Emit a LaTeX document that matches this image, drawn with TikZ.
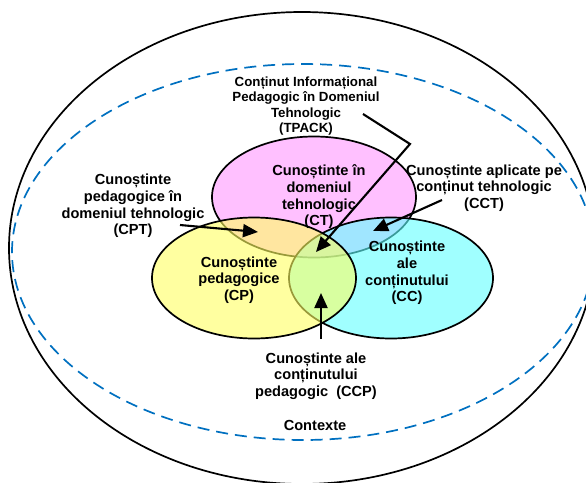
\documentclass[tikz,border=0pt]{standalone}
\usepackage{fontspec}
\setmainfont{Liberation Sans}
\usetikzlibrary{positioning,shapes,arrows.meta}
\definecolor{ctpink}{RGB}{255,150,255}
\definecolor{cpyellow}{RGB}{255,255,97}
\definecolor{cccyan}{RGB}{97,255,255}
\definecolor{ctxblue}{RGB}{0,112,192}

\begin{document}
\begin{tikzpicture}[
  x=1pt,y=-1pt,
  blob/.style={draw,ellipse,line width=1.7pt,fill opacity=0.6,minimum width=204pt,minimum height=121pt,inner sep=0pt},
  txt/.style={align=center,font=\fontsize{14.6}{16.7}\selectfont\bfseries,inner sep=0pt},
  smalltxt/.style={align=center,font=\fontsize{13.3}{15.5}\selectfont\bfseries,inner sep=0pt},
  arr/.style={line width=2.1pt,-{Triangle[length=15pt,width=13pt]}}
]
\useasboundingbox (0,0) rectangle (586,482);
\clip (0,0) rectangle (586,482);
\draw[line width=1.7pt] (302,248) ellipse [x radius=293,y radius=236];
\draw[ctxblue,line width=1.7pt,dash pattern=on 12pt off 7pt] (303,252) ellipse [x radius=291,y radius=188];
\node[blob,fill=ctpink] (CT) at (314,197) {};
\node[blob,fill=cccyan] (CC) at (391,278) {};
\node[blob,fill=cpyellow] (CP) at (254,278) {};
\node[txt] (CTt) at (319,197) {Cunoștinte în\\domeniul\\tehnologic\\(CT)};
\node[txt] (CPt) at (239,280) {Cunoștinte\\pedagogice\\(CP)};
\node[txt] (CCt) at (407,273) {Cunoștinte\\ale\\conținutului\\(CC)};
\node[txt] (CPT) at (133,206) {Cunoștinte\\pedagogice în\\domeniul tehnologic\\(CPT)};
\node[txt] (CCT) at (484,188) {Cunoștinte aplicate pe\\conținut tehnologic\\(CCT)};
\node[txt] (CCP) at (316,376) {Cunoștinte ale\\conținutului\\pedagogic~~(CCP)};
\node[smalltxt] (TPACK) at (306,106) {Conținut Informațional\\Pedagogic în Domeniul\\Tehnologic\\(TPACK)};
\node[txt] (ctx) at (315,425) {Contexte};
\coordinate (CPTa) at (180,225);
\coordinate (CPTb) at (258,232);
\coordinate (CCTa) at (442,200);
\coordinate (CCTb) at (373,231);
\coordinate (TPa) at (363,114);
\coordinate (TPk) at (410,144);
\coordinate (TPb) at (316,252);
\coordinate (CCPa) at (321,339);
\coordinate (CCPb) at (321,293);
\path (CPTa) edge[arr] (CPTb)
(CCTa) edge[arr] (CCTb)
(CCPa) edge[arr] (CCPb);
\draw[arr] (TPa) -- (TPk) -- (TPb);
\end{tikzpicture}
\end{document}
